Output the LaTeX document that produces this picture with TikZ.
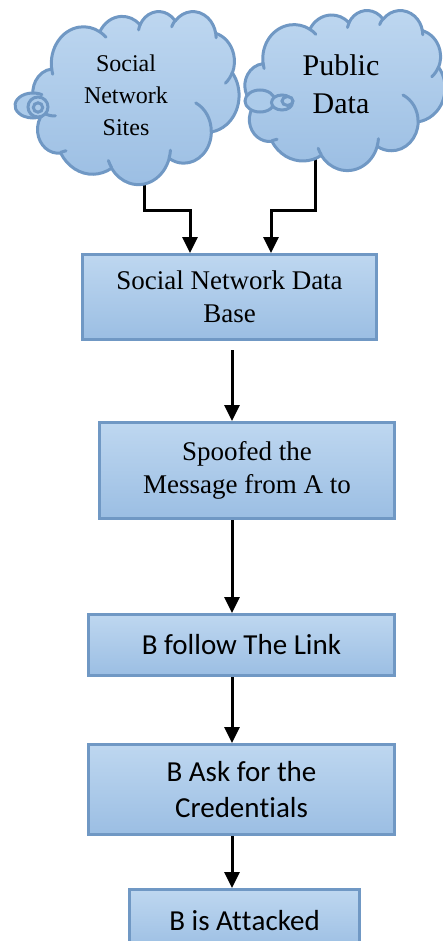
\documentclass[tikz,border=0pt]{standalone}
\usepackage{fontspec}
\setmainfont{Liberation Serif}
\newfontfamily\calib[Ligatures=NoCommon,Contextuals=NoAlternate]{Carlito}
\usetikzlibrary{arrows.meta,shadings}
\definecolor{bfillA}{RGB}{190,215,240}
\definecolor{bfillB}{RGB}{155,190,227}
\definecolor{bdraw}{RGB}{112,152,196}
% OOXML-style elliptical arc: wR, hR, start angle, sweep (visual angles, y down)
\newcommand\oarc[4]{arc[x radius=#1, y radius=#2,
  start angle={atan2((#1)*sin(#3),(#2)*cos(#3))},
  delta angle={mod(atan2((#1)*sin((#3)+(#4)),(#2)*cos((#3)+(#4)))-atan2((#1)*sin(#3),(#2)*cos(#3))+720,360)}]}
\newcommand\cloudoutline{(39.00,143.70)
  \oarc{67.53}{91.90}{-190.4875}{123.7805}
  \oarc{53.33}{72.67}{-144.1024}{89.9452}
  \oarc{43.65}{59.45}{-145.8079}{99.7230}
  \oarc{48.57}{65.95}{-130.9861}{117.2417}
  \oarc{53.33}{72.73}{-78.7089}{109.0269}
  \oarc{67.75}{92.20}{-46.2673}{130.2690}
  \oarc{57.85}{78.67}{0.6250}{114.0333}
  \oarc{67.52}{92.15}{22.4516}{115.1726}
  \oarc{77.20}{105.43}{66.2426}{75.7110}
  \oarc{43.60}{59.18}{-274.9421}{146.7356}
  \oarc{43.45}{59.45}{-246.8285}{152.5189} -- cycle}
\newcommand\cloudinner{(46.93,261.77) \oarc{43.45}{59.45}{86.7420}{26.4295}
  (69.28,348.99) \oarc{43.60}{59.18}{73.6105}{11.4475}
  (164.78,390.90) \oarc{67.52}{92.15}{137.6242}{14.0811}
  (288.27,347.51) \oarc{67.52}{92.15}{6.4533}{15.9984}
  (341.29,229.54) \oarc{57.85}{78.67}{-70.2924}{70.9174}
  (417.98,153.54) \oarc{53.33}{72.73}{30.3180}{27.7515}
  (383.24,54.26) \oarc{48.57}{65.95}{-13.7443}{14.8589}
  (290.78,39.52) \oarc{48.57}{65.95}{-149.1815}{18.1954}
  (221.41,47.20) \oarc{43.65}{59.45}{-163.4943}{17.6864}
  (140.00,51.92) \oarc{67.53}{91.90}{-66.7070}{12.3194}
  (41.27,157.89) \oarc{67.53}{91.90}{157.6544}{11.8582}}
\begin{document}
\begin{tikzpicture}[x=1pt,y=-1pt,
  box/.style={draw=bdraw, line width=3pt, top color=bfillA, bottom color=bfillB, anchor=north west, align=center, inner sep=0pt},
  serifbox/.style={box, font=\fontsize{27}{33}\selectfont},
  sansbox/.style={box, font=\calib\fontsize{29}{36}\selectfont},
  arr/.style={line width=3pt, -{Triangle[width=15pt,length=16pt]}},
  cloudfill/.style={draw=bdraw, line width=3pt, line join=round, top color=bfillA, bottom color=bfillB},
  cloudline/.style={draw=bdraw, line width=3pt, line cap=round},
  bubfill/.style={fill=bfillA!50!bfillB},
  bub/.style={draw=bdraw, line width=3pt, fill=bfillA!50!bfillB}]
\useasboundingbox (0,0) rectangle (443,941);
\clip (0,0) rectangle (443,941);
% boxes
\node[serifbox, minimum width=294, minimum height=85] (b1) at (81,253) {Social Network Data\\Base};
\node[serifbox, minimum width=295, minimum height=96] (b2) at (98,421) {Spoofed the\\Message from A to};
\node[sansbox, minimum width=306, minimum height=61] (b3) at (87,613) {B follow The Link};
\node[sansbox, minimum width=306, minimum height=90] (b4) at (87,743) {B Ask for the\\Creden\kern0pt t\kern0pt ials};
\node[sansbox, minimum width=230, minimum height=62] (b5) at (128,888) {B is At\kern0pt t\kern0pt acked};
% connectors (drawn before the clouds, which cover their upper ends)
\coordinate (c1o) at (144,170);
\coordinate (c2o) at (315,155);
\coordinate (e1a) at (144,211);
\coordinate (e1b) at (190,211);
\coordinate (e2a) at (315,211);
\coordinate (e2b) at (271,211);
\coordinate (ax) at (232,0);
\draw[arr] (c1o) -- (e1a) -- (e1b) -- (b1.north -| e1b);
\draw[arr] (c2o) -- (e2a) -- (e2b) -- (b1.north -| e2b);
\draw[arr, shorten <=9pt] (b1.south -| ax) -- (b2.north -| ax);
\draw[arr] (b2.south -| ax) -- (b3.north -| ax);
\draw[arr] (b3.south -| ax) -- (b4.north -| ax);
\draw[arr] (b4.south -| ax) -- (b5.north -| ax);
% cloud 1
\begin{scope}[shift={(33,11)}, xscale=206/432, yscale=173/432]
  \path[cloudfill] \cloudoutline;
  \path[cloudline] \cloudinner;
\end{scope}
\fill[bubfill] (33,105.5) ellipse [x radius=18, y radius=12.5];
\draw[cloudline] (33,105.5) ++(-60:18 and 12.5) arc[start angle=-60, delta angle=-240, x radius=18, y radius=12.5];
\draw[bub] (38,107) circle [radius=10];
\draw[bub] (38,107.5) circle [radius=4.7];
% cloud 2
\begin{scope}[shift={(245,10)}, xscale=200/432, yscale=160/432]
  \path[cloudfill] \cloudoutline;
  \path[cloudline] \cloudinner;
\end{scope}
\draw[bub] (260,101) ellipse [x radius=15, y radius=11];
\draw[bub] (282,102.5) ellipse [x radius=10.5, y radius=7.5];
\draw[bub] (287.5,101) ellipse [x radius=5.5, y radius=4.5];
% cloud texts
\node[font=\fontsize{24}{32}\selectfont, align=center] (t1) at (126,95) {Social\\Network\\Sites};
\node[font=\fontsize{30}{38}\selectfont, align=center] (t2) at (341,84) {Public\\Data};
\end{tikzpicture}
\end{document}
